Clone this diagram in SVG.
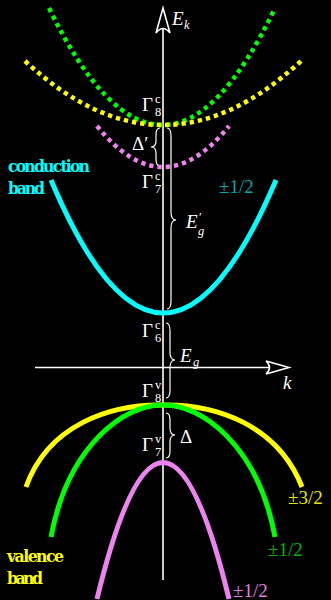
<svg xmlns="http://www.w3.org/2000/svg" width="331" height="600" viewBox="0 0 331 600">
<style>
.band{fill:none;stroke-width:5}
.dot{fill:none;stroke-width:4.5;stroke-dasharray:4.3 4}
.axis{stroke:#fff;stroke-width:1.6;fill:none}
.brace{stroke:#fff;stroke-width:1.2;fill:none}
text{font-family:"Liberation Serif","DejaVu Serif",serif}
.m{fill:#fff}
.big{font-size:19px}
.sm{font-size:12.5px}
.it{font-style:italic}
.lbl{font-size:19px}
.word{font-family:"DejaVu Serif","Liberation Serif",serif;font-size:17.5px;font-weight:bold;font-stretch:condensed}
</style>
<rect width="331" height="600" fill="#000"/>
<g id="connectors">
<path class="axis" d="M163,580 V12"/>
<path d="M163,8 L156,33 Q163,24 170,33 Z" fill="#000" stroke="#fff" stroke-width="1.6" stroke-linejoin="miter"/>
<path class="axis" d="M35,367.5 H284"/>
<path d="M289,367.5 L266,361 Q273,367.5 266,374 Z" fill="#000" stroke="#fff" stroke-width="1.6"/>
<path class="brace" d="M167,128 Q171,128 171,136 L171,212 Q171,220 176,220 Q171,220 171,228 L171,301 Q171,309 167,309"/>
<path class="brace" d="M166,323 Q170,323 170,331 L170,352 Q170,360 175,360 Q170,360 170,368 L170,390 Q170,398 166,398"/>
<path class="brace" d="M166,413 Q170,413 170,420 L170,428 Q170,435 175,435 Q170,435 170,442 L170,451 Q170,458 166,458"/>
<path class="brace" d="M160,128 Q156,128 156,135 L156,141 Q156,147 151,147 Q156,147 156,153 L156,159 Q156,166 160,166"/>
</g>
<g id="conduction-bands">
<path class="dot" stroke="#00ff00" d="M49,8 Q163,242 275,8"/>
<path class="dot" stroke="#ffff00" d="M25,61 Q163,189 301,61"/>
<path class="dot" stroke="#ee82ee" d="M97,126 Q163,208 229,126"/>
<path class="band" stroke="#00ffff" d="M51,180 Q163,446 276,180"/>
</g>
<g id="valence-bands">
<path class="band" stroke="#ffff00" d="M26,487 C48,425 110,404 163,405 C216,404 278,425 302,487"/>
<path class="band" stroke="#00ff00" d="M51,537 C68,445 125,404 163,405 C201,404 258,445 275,537"/>
<path class="band" stroke="#ee82ee" d="M97,599 Q163,326 229,599"/>
</g>
<g id="labels">
<text class="m it big" x="172" y="25">E</text><text class="m it sm" x="184" y="29">k</text>
<text class="m it big" x="283" y="389">k</text>
<text class="m big" x="142" y="111">Γ</text><text class="m sm" x="155" y="103">c</text><text class="m sm" x="155" y="116">8</text>
<text class="m big" x="142" y="188">Γ</text><text class="m sm" x="155" y="180">c</text><text class="m sm" x="155" y="193">7</text>
<text class="m big" x="142" y="337">Γ</text><text class="m sm" x="155" y="329">c</text><text class="m sm" x="155" y="342">6</text>
<text class="m big" x="142" y="397">Γ</text><text class="m sm" x="155" y="389">v</text><text class="m sm" x="155" y="402">8</text>
<text class="m big" x="142" y="451">Γ</text><text class="m sm" x="155" y="443">v</text><text class="m sm" x="155" y="456">7</text>
<text class="m big" x="132" y="150">Δ′</text>
<text class="m big" x="180" y="443">Δ</text>
<text class="m it big" x="186" y="228">E</text><text class="m sm" x="199" y="221">′</text><text class="m it sm" x="198" y="235">g</text>
<text class="m it big" x="180" y="362">E</text><text class="m it sm" x="193" y="366">g</text>
<text class="lbl" x="219" y="193" fill="#00a6a6">±1/2</text>
<text class="lbl" x="288" y="504" fill="#e6e600">±3/2</text>
<text class="lbl" x="268" y="556" fill="#00b400">±1/2</text>
<text class="lbl" x="233" y="597" fill="#e080e0">±1/2</text>
<text class="word" x="8" y="172" fill="#00ffff" textLength="82">conduction</text>
<text class="word" x="8" y="194" fill="#00ffff" textLength="37">band</text>
<text class="word" x="7" y="562" fill="#ffff00" textLength="57">valence</text>
<text class="word" x="7" y="584" fill="#ffff00" textLength="36">band</text>
</g>
</svg>
